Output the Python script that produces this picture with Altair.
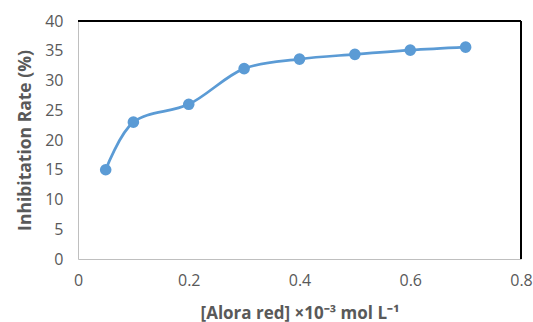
import altair as alt
import pandas as pd

conc = [0.05, 0.1, 0.2, 0.3, 0.4, 0.5, 0.6, 0.7]
rate = [15, 23, 26, 32, 33.6, 34.4, 35.1, 35.6]
x_ticks = [0, 0.2, 0.4, 0.6, 0.8]
y_ticks = [0, 5, 10, 15, 20, 25, 30, 35, 40]

df = pd.DataFrame({"conc": conc, "rate": rate})

FONT = "Open Sans"
GRAY = "#595959"
BLUE = "#5B9BD5"

x = alt.X("conc:Q", scale=alt.Scale(domain=[0, 0.8], nice=False),
          axis=alt.Axis(values=x_ticks, title="[Alora red] ×10⁻³ mol L⁻¹",
                        format="~g", grid=False, ticks=False, domainColor="#BFBFBF",
                        labelOverlap=False, labelFlush=False,
                        labelFont=FONT, labelFontSize=16, labelColor=GRAY, labelPadding=13,
                        titleFont=FONT, titleFontSize=17, titleColor=GRAY, titleFontWeight="bold",
                        titlePadding=17))
y = alt.Y("rate:Q", scale=alt.Scale(domain=[0, 40], nice=False),
          axis=alt.Axis(values=y_ticks, title="Inhibitation Rate (%)",
                        grid=False, ticks=False, domainColor="#BFBFBF",
                        labelOverlap=False, labelFlush=False,
                        labelFont=FONT, labelFontSize=16, labelColor=GRAY, labelPadding=15,
                        titleFont=FONT, titleFontSize=17.5, titleColor=GRAY, titleFontWeight="bold",
                        titlePadding=10))

base = alt.Chart(df).encode(x=x, y=y)
line = base.mark_line(color=BLUE, strokeWidth=2.75, interpolate="catmull-rom")
pts = base.mark_circle(color=BLUE, size=135, opacity=1)

top = alt.Chart(df).mark_rule(color="black", strokeWidth=1.5).encode(
    y=alt.value(0), x=alt.value(0), x2=alt.value(443))
right = alt.Chart(df).mark_rule(color="black", strokeWidth=1.5).encode(
    x=alt.value(443), y=alt.value(0), y2=alt.value(238))

chart = alt.layer(line, pts, top, right).properties(
    width=443, height=238,
    autosize=alt.AutoSizeParams(type="none"),
    padding={"left": 78, "top": 21, "right": 12, "bottom": 63},
    background="white",
).configure_view(stroke=None)

chart.save("out.html", embed_options={"renderer": "svg", "actions": False})
